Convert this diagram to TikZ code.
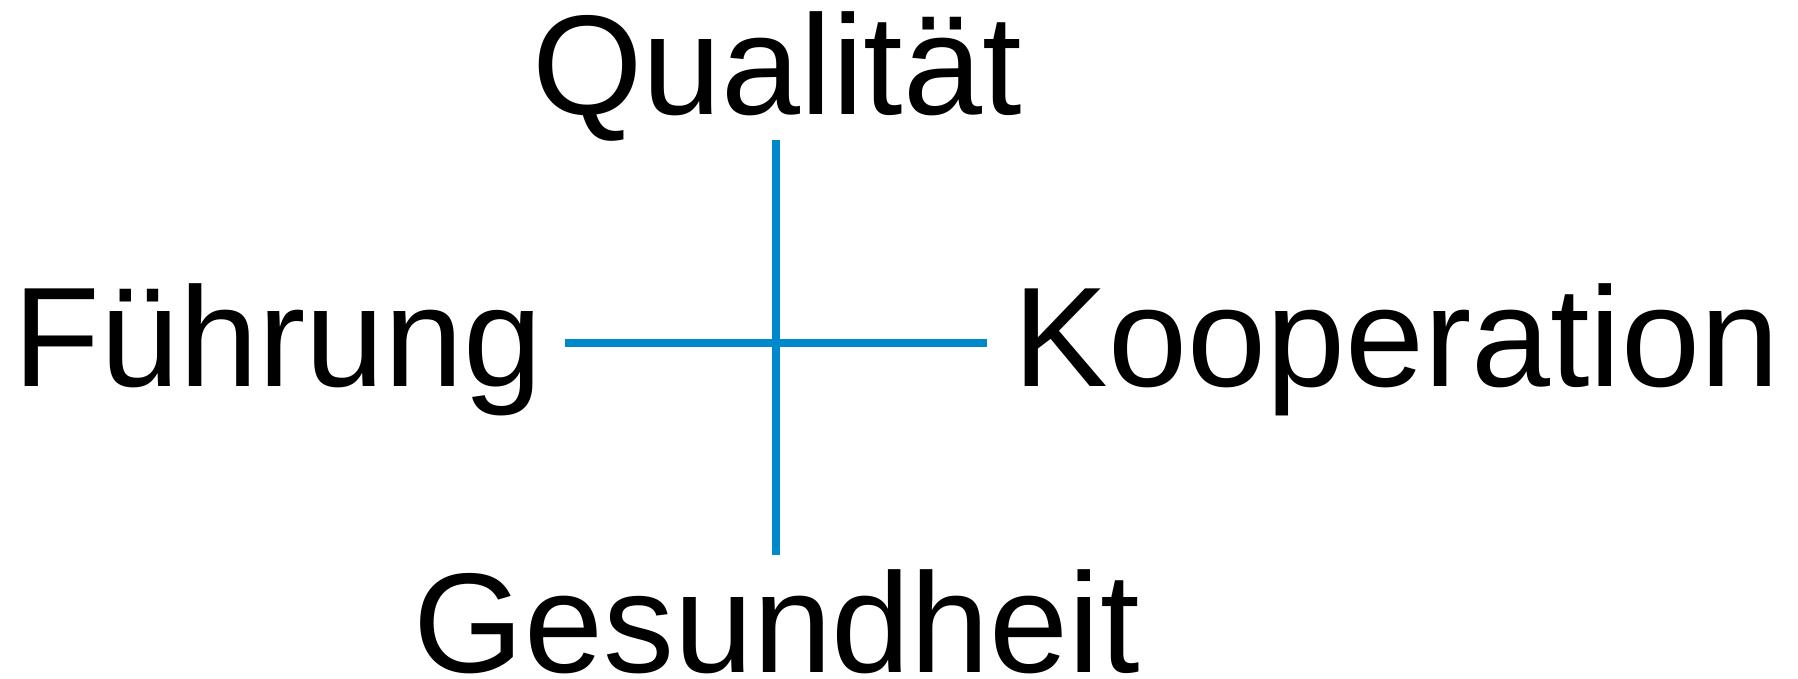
\documentclass[tikz,border=0pt]{standalone}
\usepackage{fontspec}
\setmainfont{Liberation Sans}
\usetikzlibrary{positioning}
\definecolor{crossblue}{HTML}{0088CC}

\begin{document}
\begin{tikzpicture}[
    x=0.02cm, y=-0.02cm,
    font=\fontsize{80.8}{97}\selectfont,
    lbl/.style={inner sep=0pt, anchor=base},
    axis/.style={draw=crossblue, line width=4.55pt}
  ]
  \useasboundingbox (0,0) rectangle (1798,679);
  % labels
  \node[lbl] (qual) at (777,114.7) {Qualität};
  \node[lbl] (fuehr) at (278,386.4) {Führung};
  \node[lbl] (koop) at (1396.5,386.4) {Kooperation};
  \node[lbl] (ges) at (776.8,672) {Gesundheit};
  % cross
  \coordinate (top) at (776,140);
  \coordinate (bot) at (776,555);
  \coordinate (left) at (565,343);
  \coordinate (right) at (987,343);
  \draw[axis] (top) -- (bot);
  \draw[axis] (left) -- (right);
\end{tikzpicture}
\end{document}
